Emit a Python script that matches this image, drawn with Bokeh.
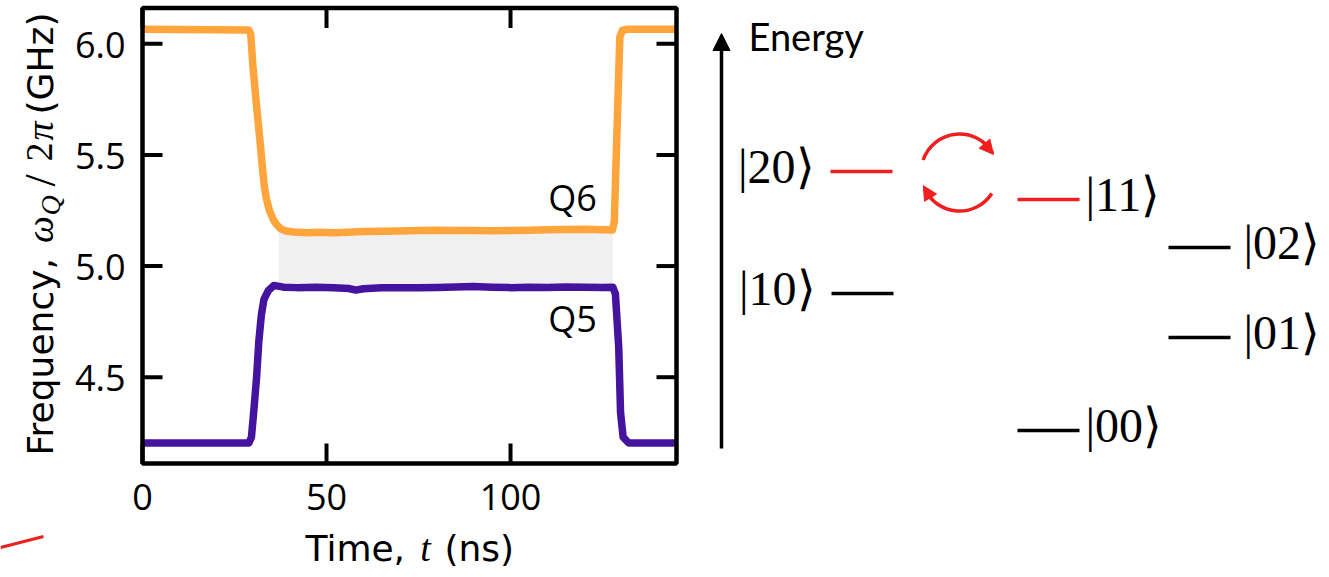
import numpy as np
from bokeh.plotting import figure
from bokeh.models import Range1d, Arrow, NormalHead
from bokeh.embed import file_html
from bokeh.resources import INLINE
from bokeh.core.properties import value

# ---------------- data: qubit frequencies during the pulse ----------------
q6_t = [0, 28.9, 29.4, 30.0, 31.0, 32.0, 32.6, 33.1, 33.7, 34.5, 35.5, 36.5, 37.5, 39, 41, 45,
        48, 52, 56, 60, 65, 70, 75, 80, 85, 90, 95, 100, 105, 110, 115, 120, 125, 127.7,
        128.2, 128.9, 129.7, 130.4, 131.5, 145]
q6_f = [6.065, 6.062, 6.045, 5.90, 5.72, 5.55, 5.44, 5.36, 5.30, 5.25, 5.21, 5.185, 5.168,
        5.158, 5.153, 5.150, 5.152, 5.150, 5.152, 5.155, 5.157, 5.158, 5.160, 5.161, 5.160,
        5.160, 5.159, 5.160, 5.161, 5.163, 5.165, 5.166, 5.163, 5.162, 5.20, 5.59, 6.03,
        6.06, 6.065, 6.065]

q5_t = [0, 28.9, 29.6, 30.3, 31.0, 31.6, 32.3, 33.0, 34.2, 35.7, 38.3, 42, 47, 52, 56, 58,
        60, 65, 70, 75, 80, 85, 90, 95, 100, 105, 110, 115, 120, 125, 127.8, 128.5, 129.4,
        129.9, 130.6, 132.1, 145]
q5_f = [4.204, 4.204, 4.23, 4.36, 4.50, 4.66, 4.78, 4.85, 4.89, 4.913, 4.905, 4.903, 4.905,
        4.902, 4.899, 4.892, 4.898, 4.902, 4.903, 4.902, 4.904, 4.906, 4.908, 4.905, 4.903,
        4.905, 4.904, 4.906, 4.905, 4.904, 4.905, 4.875, 4.635, 4.34, 4.23, 4.204, 4.204]

band_t = [37.0, 127.8]
band_f = [4.905, 5.158]
series_names = ["Q6", "Q5"]
x_ticks = [0, 50, 100]
y_ticks = [4.5, 5.0, 5.5, 6.0]
x_tick_labels = ["0", "50", "100"]
y_tick_labels = ["4.5", "5.0", "5.5", "6.0"]

# ---------------- data: energy-level diagram ----------------
level_names = ["|20⟩", "|10⟩", "|11⟩", "|00⟩", "|02⟩", "|01⟩"]
level_y = [171, 293, 199, 430, 247, 337]          # diagram units (down = lower energy)
level_x0 = [830, 831, 1017, 1017, 1168, 1168]
level_resonant = [True, False, True, False, False, False]
level_label_side = ["left", "left", "right", "right", "right", "right"]

# ---------------- styles / layout ----------------
ORANGE = "#ffa53c"
PURPLE = "#45149e"
RED = "#f01e1e"
FONT = "Open Sans"
TFONT = "DejaVu Sans"
MATH = "Liberation Serif"
KETFONT = "Liberation Serif"
# distance from the text anchor to the alphabetic baseline, per em
K = {FONT: 0.388, TFONT: 0.346, MATH: 0.3375, "Lato": 0.387}

W, H = 1329, 577
OFF = 0                       # page offset of the canvas
FX0, FX1, FY0, FY1 = 142, 676, 7.5, 463   # chart frame (page px)
T0, T1 = 0.0, 145.1
SX = (FX1 - FX0) / (T1 - T0)              # px per ns
SY = (376.7 - 43.3) / 1.5                 # px per GHz (6.0 at 43.3 px)


def t_of(px):
    return T0 + (px - FX0) / SX


def f_of(py):
    return 6.0 + (43.3 - py) / SY


F0, F1 = f_of(FY1), f_of(FY0)

p = figure(width=W, height=H,
           x_range=Range1d(t_of(OFF), t_of(OFF + W)),
           y_range=Range1d(f_of(OFF + H), f_of(OFF)),
           x_axis_type=None, y_axis_type=None, min_border=0,
           toolbar_location=None, output_backend="svg")
p.extra_x_ranges = {"px": Range1d(OFF, OFF + W)}
p.extra_y_ranges = {"px": Range1d(OFF + H, OFF)}
p.outline_line_color = None
p.background_fill_color = "white"
p.border_fill_color = "white"
PX = dict(x_range_name="px", y_range_name="px")

# ======================= left: frequency vs time =======================
p.quad(left=[band_t[0]], right=[band_t[1]], bottom=[band_f[0]], top=[band_f[1]],
       fill_color="#f0f0f0", line_color=None)
p.line(q6_t, q6_f, line_color=ORANGE, line_width=7.5, line_join="round")
p.line(q5_t, q5_f, line_color=PURPLE, line_width=7.5, line_join="round")

# frame and inward ticks on all four sides
p.quad(left=[T0], right=[T1], bottom=[F0], top=[F1], fill_color=None,
       line_color="black", line_width=4.5)
TLX, TLY = 20 / SX, 20 / SY
p.segment(x0=x_ticks, y0=[F0] * 3, x1=x_ticks, y1=[F0 + TLY] * 3, line_color="black", line_width=4)
p.segment(x0=x_ticks, y0=[F1] * 3, x1=x_ticks, y1=[F1 - TLY] * 3, line_color="black", line_width=4)
p.segment(x0=[T0] * 4, y0=y_ticks, x1=[T0 + TLX] * 4, y1=y_ticks, line_color="black", line_width=4)
p.segment(x0=[T1] * 4, y0=y_ticks, x1=[T1 - TLX] * 4, y1=y_ticks, line_color="black", line_width=4)

FSN = 36
FS = f"{FSN}px"
# tick labels (baseline 47 px below the frame / 15 px below each y tick)
p.text(x=x_ticks, y=[F0 - (47 - K[FONT] * FSN) / SY] * 3, text=x_tick_labels,
       text_font=value(FONT), text_font_size=FS, text_align="center",
       text_baseline="alphabetic", text_color="black")
p.text(x=[T0 - 17 / SX] * 4, y=[v - (15 - K[FONT] * FSN) / SY for v in y_ticks],
       text=y_tick_labels, text_font=value(FONT), text_font_size=FS, text_align="right",
       text_baseline="alphabetic", text_color="black")

# series labels
p.text(x=[t_of(572)] * 2, y=[f_of(210.7 - K[FONT] * FSN), f_of(332.3 - K[FONT] * FSN)],
       text=series_names, text_font=value(FONT), text_font_size=FS, text_align="center",
       text_baseline="alphabetic", text_color="black")


def txt(s, x, y, font=FONT, size=FSN, style="normal", angle=0.0, align="left"):
    """x, y: alphabetic baseline position in page px."""
    k = K[font] * size
    if angle:
        x = x - k
    else:
        y = y - k
    p.text(x=[x], y=[y], text=[s], angle=angle, text_font=value(font),
           text_font_size=f"{size}px", text_font_style=style, text_align=align,
           text_baseline="alphabetic", text_color="black", **PX)


# y-axis title (rotated), assembled from pieces
A = np.pi / 2
txt("Frequency,", 52, 455, font=TFONT, angle=A)
txt("ω", 52, 229, font=MATH, size=38, style="italic", angle=A, align="center")
txt("Q", 59, 205, font=MATH, size=28, style="italic", angle=A, align="center")
txt("/", 55, 180, font=MATH, size=44, angle=A, align="center")
txt("2", 52, 151.5, font=MATH, size=38, angle=A, align="center")
txt("π", 52, 130.5, font=MATH, size=38, style="italic", angle=A, align="center")
txt("(GHz)", 52, 114, font=TFONT, angle=A)

# x-axis title
txt("Time,", 305, 560, font=TFONT)
txt("t", 425, 560, font=MATH, size=38, style="italic", align="center")
txt("(ns)", 444, 560, font=TFONT)

# stray red stroke at the lower left of the image
p.segment(x0=[0], y0=[547], x1=[43], y1=[536], line_color=RED, line_width=3, **PX)

# ======================= right: energy diagram =======================
p.add_layout(Arrow(x_start=721, y_start=448, x_end=721, y_end=33, line_width=3.5,
                   line_color="black",
                   end=NormalHead(size=17, fill_color="black", line_color="black", line_width=1),
                   **PX))
txt("Energy", 748, 50, font="Lato", size=38)

LEVEL_W = 62
x1 = [x + LEVEL_W for x in level_x0]
cols = [RED if r else "black" for r in level_resonant]
p.segment(x0=level_x0, y0=level_y, x1=x1, y1=level_y, line_color=cols, line_width=3.5, **PX)

KS = 48
kdy = 11 - K[KETFONT] * KS
lx_l, ly_l, lt_l, lx_r, ly_r, lt_r = [], [], [], [], [], []
for name, y, xa, xb, side in zip(level_names, level_y, level_x0, x1, level_label_side):
    if side == "left":
        lx_l.append(xa - 16); ly_l.append(y + kdy); lt_l.append(name)
    else:
        gap = 6 if xa < 1100 else 13
        lx_r.append(xb + gap); ly_r.append(y + kdy); lt_r.append(name)
p.text(x=lx_l, y=ly_l, text=lt_l, text_font=value(KETFONT), text_font_size=f"{KS}px",
       text_align="right", text_baseline="alphabetic", text_color="black", **PX)
p.text(x=lx_r, y=ly_r, text=lt_r, text_font=value(KETFONT), text_font_size=f"{KS}px",
       text_align="left", text_baseline="alphabetic", text_color="black", **PX)

# circulating exchange arrows between |20> and |11>
CX, CY, R = 959, 172, 38.5
arc_start = [30, 205]
arc_end = [161, 327]
p.arc(x=[CX, CX], y=[CY, CY], radius=R, start_angle=np.radians(arc_start).tolist(),
      end_angle=np.radians(arc_end).tolist(), direction="anticlock",
      line_color=RED, line_width=3.5, **PX)
for a0, a1 in [(52, 28), (222, 200)]:
    r0, r1 = np.radians(a0), np.radians(a1)
    p.add_layout(Arrow(x_start=CX + R * np.cos(r0), y_start=CY - R * np.sin(r0),
                       x_end=CX + R * np.cos(r1), y_end=CY - R * np.sin(r1),
                       line_color=RED, line_width=3.5,
                       end=NormalHead(size=14, fill_color=RED, line_color=RED, line_width=1),
                       **PX))

open("out.html", "w").write(file_html(p, INLINE))
